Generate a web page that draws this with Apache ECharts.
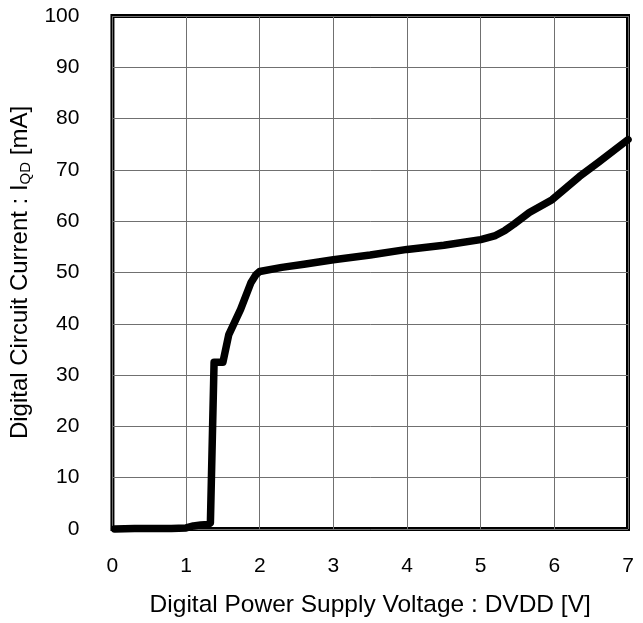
<!DOCTYPE html>
<html>
<head>
<meta charset="utf-8">
<script src="https://cdn.jsdelivr.net/npm/echarts@6/dist/echarts.min.js"></script>
<style>
  html, body { margin: 0; padding: 0; background: #fff; }
  #chart { width: 643px; height: 623px; }
</style>
</head>
<body>
<div id="chart"></div>
<script>
// DVDD supply voltage [V]
const voltage = [0.03, 0.3, 0.8, 1.0, 1.1, 1.2, 1.3, 1.33, 1.38, 1.5, 1.58, 1.74, 1.88, 1.95, 2.0,
  2.3, 2.6, 3.0, 3.5, 4.0, 4.5, 5.0, 5.2, 5.33, 5.45, 5.66, 5.97, 6.34, 6.6, 7.0];
// Digital circuit current IQD [mA]
const current = [0, 0.1, 0.1, 0.2, 0.6, 0.8, 0.9, 1.2, 32.5, 32.5, 37.9, 42.8, 48, 49.6, 50.2,
  51, 51.6, 52.5, 53.4, 54.5, 55.3, 56.4, 57.2, 58.2, 59.4, 61.7, 64.2, 68.7, 71.5, 75.9];

const xTicks = [0, 1, 2, 3, 4, 5, 6, 7];
const yTicks = [0, 10, 20, 30, 40, 50, 60, 70, 80, 90, 100];

const font = 'Liberation Sans, Arial, sans-serif';
const chart = echarts.init(document.getElementById('chart'), null, { renderer: 'canvas' });

chart.setOption({
  animation: false,
  backgroundColor: '#fff',
  grid: {
    left: 111, top: 16, width: 517, height: 514,
    show: true, borderColor: '#000', borderWidth: 4, backgroundColor: 'transparent'
  },
  xAxis: {
    type: 'value',
    min: xTicks[0], max: xTicks[xTicks.length - 1], interval: 1,
    name: 'Digital Power Supply Voltage : DVDD [V]',
    nameLocation: 'middle', nameGap: 64,
    nameTextStyle: { fontFamily: font, fontSize: 24.5, color: '#000' },
    axisLine: { show: false },
    axisTick: { show: false },
    axisLabel: { fontFamily: font, fontSize: 21, color: '#000', margin: 27 },
    splitLine: { show: true, lineStyle: { color: '#707070', width: 1 } }
  },
  yAxis: {
    type: 'value',
    min: yTicks[0], max: yTicks[yTicks.length - 1], interval: 10,
    name: '{a|Digital Circuit Current : I}{s|QD}{a| [mA]}',
    nameLocation: 'middle', nameGap: 72, nameRotate: 90,
    nameTextStyle: {
      fontFamily: font, fontSize: 24, color: '#000',
      rich: {
        a: { fontFamily: font, fontSize: 24, color: '#000' },
        s: { fontFamily: font, fontSize: 15, color: '#000', padding: [12, 0, 0, 0] }
      }
    },
    axisLine: { show: false },
    axisTick: { show: false },
    axisLabel: { fontFamily: font, fontSize: 21, color: '#000', margin: 33 },
    splitLine: { show: true, lineStyle: { color: '#707070', width: 1 } }
  },
  series: [{
    type: 'line',
    data: voltage.map((v, i) => [v, current[i]]),
    symbol: 'none',
    smooth: false,
    lineStyle: { color: '#000', width: 7.5, cap: 'round', join: 'round' },
    clip: false,
    z: 3
  }]
});
</script>
</body>
</html>
